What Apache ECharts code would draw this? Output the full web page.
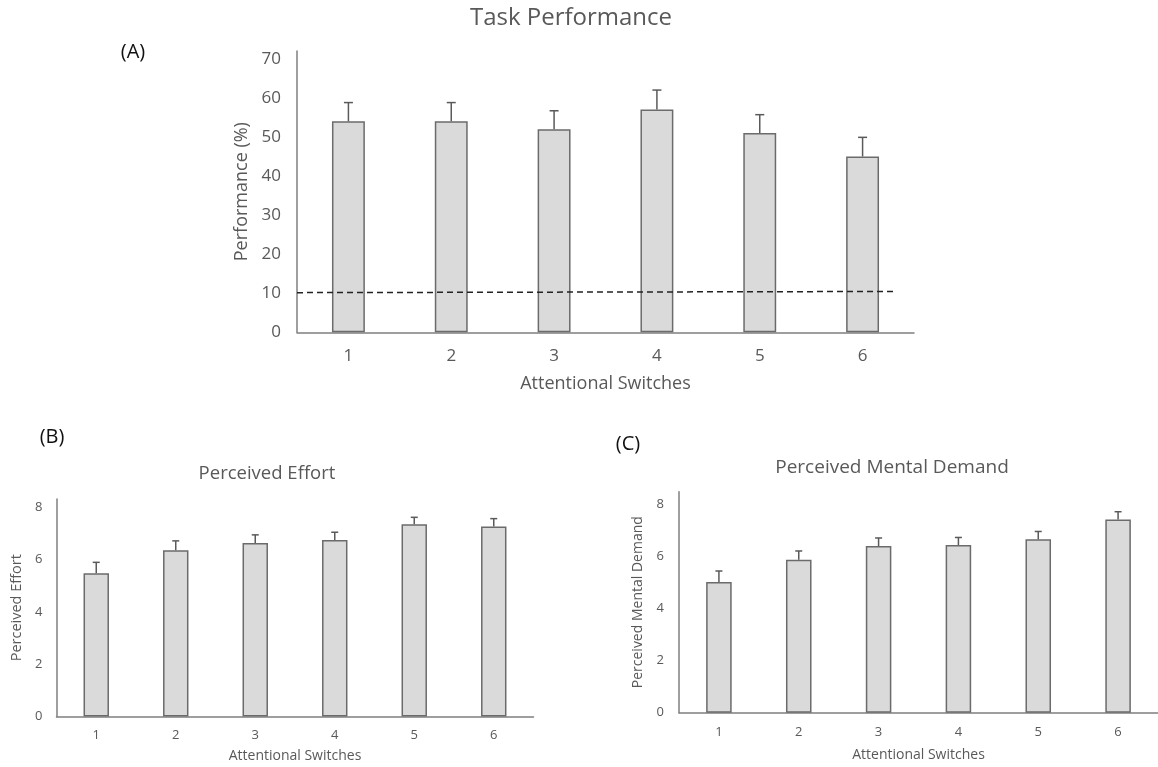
<!DOCTYPE html>
<html>
<head>
<meta charset="utf-8">
<script src="https://cdn.jsdelivr.net/npm/echarts@6/dist/echarts.min.js"></script>
<style>
html,body{margin:0;padding:0;background:#fff;}
#c{width:1158px;height:767px;}
</style>
</head>
<body>
<div id="c"></div>
<script>
// ---- data ----
const categories = ['1', '2', '3', '4', '5', '6'];

const performanceMean = [54.0, 54.0, 52.0, 57.0, 51.0, 45.0];
const performanceErr  = [4.8, 4.8, 4.7, 5.0, 4.7, 4.9];
const chanceLine = [[0, 10.15], [5.8, 10.45]];   // dashed chance level (x in category units)

const effortMean = [5.47, 6.35, 6.63, 6.74, 7.35, 7.26];
const effortErr  = [0.42, 0.36, 0.31, 0.30, 0.26, 0.30];

const demandMean = [5.03, 5.88, 6.41, 6.45, 6.67, 7.43];
const demandErr  = [0.42, 0.34, 0.31, 0.29, 0.30, 0.30];

const perfTicks = [0, 10, 20, 30, 40, 50, 60, 70];
const smallTicks = [0, 2, 4, 6, 8];

// ---- styles ----
const FONT = '"Open Sans"';
const TXT = '#595959';
const AXIS = '#7f7f7f';
const BAR_FILL = '#dadada';
const BAR_BORDER = '#6b6b6b';

function errData(mean, err) {
  return mean.map((m, i) => [i, m, m + err[i]]);
}

function errSeries(xi, yi, mean, err, cap) {
  return {
    type: 'custom',
    xAxisIndex: xi,
    yAxisIndex: yi,
    z: 3,
    data: errData(mean, err),
    encode: { x: 0, y: [1, 2] },
    renderItem: function (params, api) {
      const x = api.value(0);
      const p0 = api.coord([x, api.value(1)]);
      const p1 = api.coord([x, api.value(2)]);
      const st = { stroke: '#5a5a5a', lineWidth: 1.5 };
      return {
        type: 'group',
        children: [
          { type: 'line', shape: { x1: p0[0], y1: p0[1], x2: p1[0], y2: p1[1] }, style: st },
          { type: 'line', shape: { x1: p1[0] - cap, y1: p1[1], x2: p1[0] + cap, y2: p1[1] }, style: st }
        ]
      };
    }
  };
}

function barSeries(xi, yi, data) {
  return {
    type: 'bar',
    xAxisIndex: xi,
    yAxisIndex: yi,
    data: data,
    barWidth: '32%',
    itemStyle: { color: BAR_FILL, borderColor: BAR_BORDER, borderWidth: 1.5 },
    z: 2
  };
}

function catAxis(gi, fontSize, nameSize, nameGap, margin) {
  return {
    type: 'category',
    gridIndex: gi,
    data: categories,
    name: 'Attentional Switches',
    nameLocation: 'middle',
    nameGap: nameGap,
    nameTextStyle: { color: TXT, fontSize: nameSize, fontFamily: FONT },
    axisLine: { lineStyle: { color: AXIS, width: 1.5 } },
    axisTick: { show: false },
    axisLabel: { color: TXT, fontSize: fontSize, fontFamily: FONT, margin: margin },
    splitLine: { show: false }
  };
}

function valAxis(gi, max, interval, ticks, name, fontSize, nameSize, nameGap, margin) {
  return {
    type: 'value',
    gridIndex: gi,
    min: 0,
    max: max,
    interval: interval,
    name: name,
    nameLocation: 'middle',
    nameGap: nameGap,
    nameTextStyle: { color: TXT, fontSize: nameSize, fontFamily: FONT },
    axisLine: { show: true, lineStyle: { color: AXIS, width: 1.5 } },
    axisTick: { show: false },
    splitLine: { show: false },
    axisLabel: {
      color: TXT, fontSize: fontSize, fontFamily: FONT, margin: margin,
      formatter: function (v) { return ticks.indexOf(v) >= 0 ? String(v) : ''; }
    }
  };
}

const chart = echarts.init(document.getElementById('c'), null, { renderer: 'canvas' });

const option = {
  backgroundColor: '#ffffff',
  animation: false,
  grid: [
    { left: 297, top: 51, width: 617, height: 281.3 },
    { left: 56.5, top: 499, width: 477, height: 217.5 },
    { left: 679, top: 491.7, width: 484, height: 221 }
  ],
  xAxis: [
    catAxis(0, 17, 18, 43, 15),
    { type: 'value', gridIndex: 0, min: 0, max: 6, show: false },
    catAxis(1, 13, 14, 33, 12),
    catAxis(2, 13, 14, 35, 13)
  ],
  yAxis: [
    valAxis(0, 72, 10, perfTicks, 'Performance (%)', 17, 18, 35, 16),
    valAxis(1, 8.31, 2, smallTicks, 'Perceived Effort', 13, 14.5, 32, 14),
    valAxis(2, 8.5, 2, smallTicks, 'Perceived Mental Demand', 13, 14, 34, 15)
  ],
  series: [
    barSeries(0, 0, performanceMean),
    errSeries(0, 0, performanceMean, performanceErr, 4.5),
    {
      type: 'line',
      xAxisIndex: 1,
      yAxisIndex: 0,
      data: chanceLine,
      symbol: 'none',
      z: 4,
      lineStyle: { color: '#222222', width: 1.5, type: [6, 4] }
    },
    barSeries(2, 1, effortMean),
    errSeries(2, 1, effortMean, effortErr, 3.5),
    barSeries(3, 2, demandMean),
    errSeries(3, 2, demandMean, demandErr, 3.5)
  ],
  graphic: [
    { type: 'text', x: 571, y: 18, style: { text: 'Task Performance', fill: TXT, font: '24px ' + FONT, textAlign: 'center', textVerticalAlign: 'middle' } },
    { type: 'text', x: 133, y: 52, style: { text: '(A)', fill: '#111', font: '20px ' + FONT, textAlign: 'center', textVerticalAlign: 'middle' } },
    { type: 'text', x: 52, y: 437, style: { text: '(B)', fill: '#111', font: '20px ' + FONT, textAlign: 'center', textVerticalAlign: 'middle' } },
    { type: 'text', x: 628, y: 444, style: { text: '(C)', fill: '#111', font: '20px ' + FONT, textAlign: 'center', textVerticalAlign: 'middle' } },
    { type: 'text', x: 267, y: 474, style: { text: 'Perceived Effort', fill: TXT, font: '18.5px ' + FONT, textAlign: 'center', textVerticalAlign: 'middle' } },
    { type: 'text', x: 892, y: 468, style: { text: 'Perceived Mental Demand', fill: TXT, font: '19px ' + FONT, textAlign: 'center', textVerticalAlign: 'middle' } }
  ]
};

chart.setOption(option);
</script>
</body>
</html>
